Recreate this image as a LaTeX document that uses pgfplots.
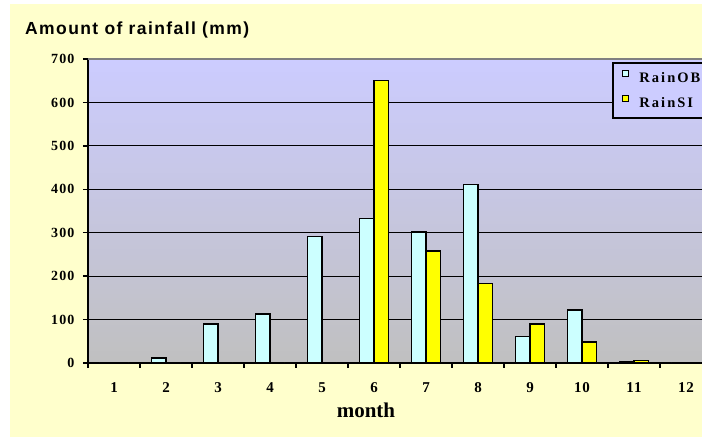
\documentclass[border=0pt]{standalone}
\usepackage{fontspec}
\setmainfont{Liberation Serif}
\newfontfamily\titlefont[LetterSpace=8]{Liberation Sans}
\newfontfamily\tickfont[LetterSpace=6]{Liberation Serif}
\newfontfamily\ytickfont[LetterSpace=8]{Liberation Serif}
\newfontfamily\legfont[LetterSpace=14]{Liberation Serif}
\usepackage{pgfplots}
\pgfplotsset{compat=1.18}
\definecolor{bgyellow}{RGB}{255,255,204}
\definecolor{bgtop}{RGB}{204,204,255}
\definecolor{bgbot}{RGB}{192,192,192}
\definecolor{barcyan}{RGB}{204,255,255}
\definecolor{baryellow}{RGB}{255,255,0}
\definecolor{topgray}{RGB}{128,128,128}
\begin{document}
\begin{tikzpicture}[x=1pt,y=1pt]
\useasboundingbox (0,0) rectangle (702,438);
\clip (0,0) rectangle (702,438);
\fill[white] (0,0) rectangle (702,438);
\fill[bgyellow] (10,1) rectangle (702,434);
\node[anchor=base west, inner sep=0pt] at (25,403.7) {\fontsize{17.5}{19}\titlefont\bfseries Amount of rainfall (mm)};
\begin{axis}[
  at={(88pt,75pt)}, anchor=south west,
  scale only axis, width=624pt, height=304pt,
  xmin=0.5, xmax=12.5, ymin=0, ymax=700,
  ybar=0pt, bar width=14.5pt,
  axis x line*=bottom, axis y line*=left,
  axis line style={-, black, line width=2pt},
  axis background/.style={shade, top color=bgtop, bottom color=bgbot},
  xtick={1,...,12}, major x tick style={draw=none},
  minor xtick={0.5,1.5,...,12.5},
  minor x tick style={black, line width=1.5pt},
  minor tick length=5pt,
  ytick={0,100,...,700},
  major y tick style={black, line width=1.5pt},
  major tick length=5pt,
  tick align=outside,
  ymajorgrids, major grid style={black, line width=1pt},
  /pgf/number format/assume math mode=true,
  xticklabel style={font=\fontsize{15}{17}\tickfont\bfseries, yshift=-11pt},
  yticklabel style={font=\fontsize{14}{16}\ytickfont\bfseries, xshift=-5pt},
  xlabel={\fontsize{21}{23}\selectfont\bfseries month},
  xlabel style={at={(axis description cs:0.4455,0)}, anchor=center, yshift=-47pt},
  legend style={at={(rel axis cs:0.84,0.99)}, anchor=north west,
    draw=black, line width=2pt, fill=bgtop, font=\fontsize{14.5}{16}\legfont\bfseries,
    row sep=9pt, inner xsep=9pt, inner ysep=7pt,
    /tikz/every odd column/.append style={column sep=8pt}},
  legend cell align=left,
  legend image code/.code={\draw[#1, line width=1.3pt] (0pt,1.7pt) rectangle (6pt,7.7pt);},
]
\addplot[fill=barcyan, draw=black, line width=1.5pt] coordinates {
 (1,0) (2,11) (3,90) (4,113) (5,291) (6,333) (7,302) (8,411) (9,61) (10,122) (11,2) (12,0)};
\addplot[fill=baryellow, draw=black, line width=1.5pt] coordinates {
 (1,0) (2,0) (3,0) (4,0) (5,0) (6,650) (7,258) (8,183) (9,90) (10,48) (11,6) (12,0)};
\legend{RainOB, RainSI}
\draw[topgray, line width=2pt] (rel axis cs:0,1) -- (rel axis cs:1,1);
\end{axis}
\end{tikzpicture}
\end{document}
